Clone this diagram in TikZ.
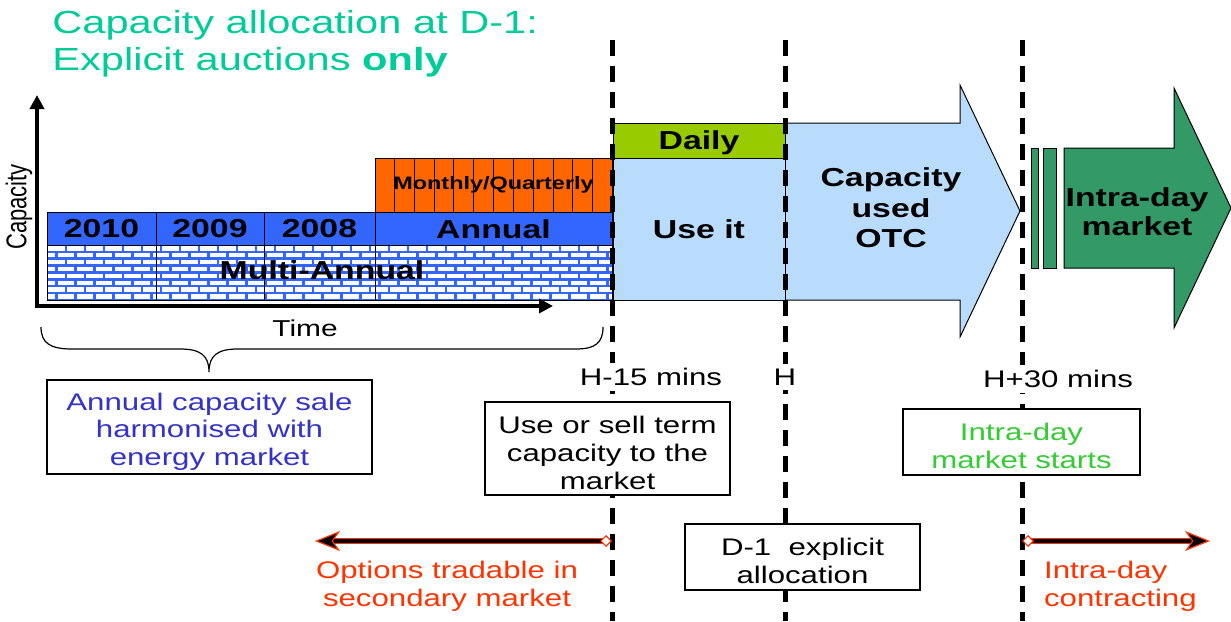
\documentclass[tikz,border=0pt]{standalone}
\usepackage{fontspec}
\setmainfont[FakeStretch=1.3]{Liberation Sans}
\newfontfamily\narrowsans{Liberation Sans}
\usetikzlibrary{arrows.meta,calc}

\definecolor{titlegreen}{RGB}{0,204,153}
\definecolor{yearblue}{RGB}{51,102,255}
\definecolor{monthorange}{RGB}{255,102,0}
\definecolor{dailygreen}{RGB}{153,204,0}
\definecolor{useblue}{RGB}{185,220,252}
\definecolor{intragreen}{RGB}{51,153,102}
\definecolor{saleblue}{RGB}{51,51,204}
\definecolor{startgreen}{RGB}{51,204,51}
\definecolor{tradered}{RGB}{255,51,0}

\newcommand\boxstrut{\rule{0pt}{13pt}}

\begin{document}
\begin{tikzpicture}[x=0.5pt, y=-0.5pt,
	slot/.style={draw, line width=0.5pt, inner sep=0pt, font=\fontsize{13}{15}\selectfont\bfseries},
	infobox/.style={draw, fill=white, line width=0.6pt, align=center, inner sep=0pt, font=\fontsize{12}{14}\selectfont},
	tick/.style={fill=white, inner sep=2.5pt, font=\fontsize{12}{14}\selectfont},
	cutoff/.style={line width=2.5pt, dash pattern=on 8pt off 5pt},
	tradeback/.style={draw=tradered, line width=3.2pt, shorten <=3pt, shorten >=8pt},
	tradeline/.style={draw=black, line width=1.8pt, arrows={Diamond[length=6pt,width=6pt,color=tradered,fill=white,line width=0.6pt]-Stealth[length=12.5pt,width=10pt,inset=3.5pt,color=tradered,fill=black,line width=0.6pt]}},
	note/.style={align=center, text=tradered, font=\fontsize{12}{14}\selectfont}]

	\useasboundingbox (0,0) rectangle (1231,621);

	\node[anchor=north west, inner sep=0pt, align=left, text=titlegreen, font=\fontsize{16}{18.5}\selectfont] (title) at (52,10) {Capacity allocation at D-1:\\Explicit auctions \textbf{only}};

	% multi-annual bricks
	\begin{scope}
		\clip (47,245) rectangle (612,300);
		\fill[yearblue] (47,245) rectangle (612,300);
		\foreach \r in {0,...,7}
			\foreach \k in {0,...,30}
				\fill[white] ({47-mod(\r,2)*9.5+\k*19+1.3},{245+\r*6.875+1.2}) rectangle ++(16.4,4.4);
	\end{scope}
	\draw[line width=0.5pt] (47,245) rectangle (612,300);
	\foreach \x in {156,264,375}
		\draw[line width=0.5pt] (\x,245) -- (\x,300);
	\node[font=\fontsize{13}{15}\selectfont\bfseries] (multi) at (322,270) {Multi-Annual};

	\node[slot, fill=yearblue, minimum width=54.5pt, minimum height=16.5pt] (y2010) at (101.5,229) {2010};
	\node[slot, fill=yearblue, minimum width=54pt, minimum height=16.5pt] (y2009) at (210,229) {2009};
	\node[slot, fill=yearblue, minimum width=55.5pt, minimum height=16.5pt] (y2008) at (319.5,229) {2008};
	\node[slot, fill=yearblue, minimum width=118.5pt, minimum height=16.5pt] (annual) at (493.5,229) {Annual};

	\node[slot, fill=monthorange, minimum width=118.5pt, minimum height=27pt] (monthly) at (493.5,185) {};
	\foreach \i in {1,...,11}
		\draw[line width=0.5pt] ($(monthly.north west)!\i/12!(monthly.north east)$) -- ($(monthly.south west)!\i/12!(monthly.south east)$);
	\node[font=\fontsize{9}{11}\selectfont\bfseries] (mqlabel) at (monthly.center) {Monthly/Quarterly};

	% day ahead and after
	\draw[line width=0.5pt, fill=useblue] (785,123) -- (960,123) -- (960,85) -- (1020,211) -- (960,337) -- (960,300) -- (785,300) -- cycle;
	\node[slot, fill=dailygreen, minimum width=86pt, minimum height=17.5pt, text depth=0pt] (daily) at (699,140.5) {Daily};
	\node[slot, fill=useblue, minimum width=86pt, minimum height=71pt] (useit) at (699,229) {Use it};
	\node[align=center, font=\fontsize{13}{15.25}\selectfont\bfseries] (otc) at (891,208) {Capacity\\used\\OTC};

	\draw[line width=0.5pt, fill=intragreen] (1031,148) rectangle (1038,268);
	\draw[line width=0.5pt, fill=intragreen] (1043,148) rectangle (1056,268);
	\draw[line width=0.5pt, fill=intragreen] (1064,148) -- (1174,148) -- (1174,88) -- (1231,208) -- (1174,328) -- (1174,268) -- (1064,268) -- cycle;
	\node[align=center, font=\fontsize{13}{14.5}\selectfont\bfseries] (intra) at (1137,212) {Intra-day\\market};

	% axes
	\coordinate (origin) at (37,306);
	\coordinate (ytop) at (37,95);
	\coordinate (xend) at (553,306);
	\draw[line width=2pt, miter limit=4, arrows={Triangle[length=7pt,width=7pt]-Triangle[length=7pt,width=7pt]}] (ytop) -- (origin) -- (xend);
	\node[rotate=90] (caplabel) at (19,207) {\scalebox{1}[1.3]{\narrowsans\fontsize{11}{13}\selectfont Capacity}};
	\node[font=\fontsize{11.5}{13}\selectfont] (time) at (305,328) {Time};

	% gate closures
	\foreach \x/\n in {612/h15, 785/h0, 1022/h30} {
		\coordinate (\n top) at (\x,40);
		\coordinate (\n bot) at (\x,621);
		\draw[cutoff] (\n top) -- (\n bot);
	}

	\draw[line width=0.6pt] (41,327) .. controls (41,343) and (50,349) .. (72,349) -- (180,349) .. controls (200,349) and (209,355) .. (209,372)
		.. controls (209,355) and (218,349) .. (238,349) -- (576,349) .. controls (595,349) and (603,343) .. (603,327);

	\node[tick] (h15) at (651,377) {H-15 mins};
	\node[tick] (h0) at (785,377) {H};
	\node[tick] (h30) at (1058,379) {H+30 mins};

	\node[infobox, text=saleblue, minimum width=162.5pt, minimum height=47pt, font=\fontsize{12}{13.75}\selectfont] (salebox) at (209.5,427) {\boxstrut Annual capacity sale\\harmonised with\\energy market};
	\node[infobox, minimum width=122.5pt, minimum height=46.5pt] (sellbox) at (607.5,448.5) {\boxstrut Use or sell term\\capacity to the\\market};
	\node[infobox, minimum width=117.5pt, minimum height=33pt] (d1box) at (802.5,557) {\boxstrut D-1~ explicit\\allocation};
	\node[infobox, text=startgreen, minimum width=118.5pt, minimum height=33pt] (startbox) at (1021.5,442) {\boxstrut Intra-day\\market starts};

	% trading windows
	\coordinate (secR) at (612,541);
	\coordinate (secL) at (315,541);
	\coordinate (idL) at (1022,541);
	\coordinate (idR) at (1210,541);
	\draw[tradeback] (secR) -- (secL);
	\draw[tradeline] (secR) -- (secL);
	\draw[tradeback] (idL) -- (idR);
	\draw[tradeline] (idL) -- (idR);
	\node[note] (sectext) at (447,586) {Options tradable in\\secondary market};
	\node[note, anchor=west, align=left] (idtext) at (1037,586) {Intra-day\\contracting};

\end{tikzpicture}
\end{document}
